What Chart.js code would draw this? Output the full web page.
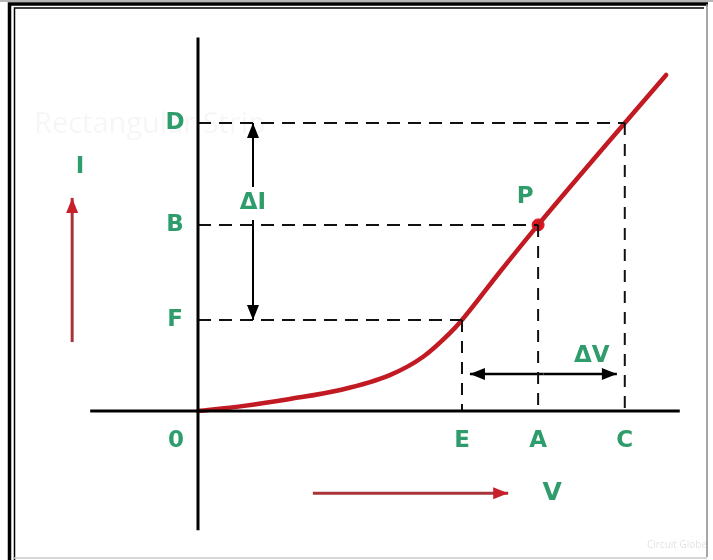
<!DOCTYPE html>
<html>
<head>
<meta charset="utf-8">
<script src="https://cdn.jsdelivr.net/npm/chart.js@4"></script>
<style>
  html, body { margin: 0; padding: 0; background: #fff; }
  canvas { display: block; }
</style>
</head>
<body>
<canvas id="chart" width="713" height="560"></canvas>
<script>
// tick letters on the V (horizontal) and I (vertical) axes
const vLabels = ['E', 'A', 'C']
const vValues = [6.0, 7.73, 9.7]
const iLabels = ['F', 'B', 'D']
const iValues = [3.17, 6.48, 10.03]

// I-V curve
const curveV = [0, 1.0, 2.09, 3.23, 4.36, 5.11, 5.73, 6.0, 6.86, 7.73, 9.7, 10.64]
const curveI = [0, 0.17, 0.42, 0.73, 1.25, 1.88, 2.72, 3.17, 4.84, 6.48, 10.03, 11.7]

// operating point P sits on A / B
const pointP = { x: vValues[1], y: iValues[1] }

const green = '#2f9c6c'
const red = '#c21a22'

function build () {
  const ctx = document.getElementById('chart').getContext('2d')

  const pts = (xs, ys) => xs.map((x, i) => ({ x: x, y: ys[i] }))

  // dashed projection lines from each curve point to both axes
  const guides = []
  vValues.forEach((v, i) => {
    guides.push({
      data: [{ x: 0, y: iValues[i] }, { x: v, y: iValues[i] }],
      borderDash: [13, 8]
    })
    guides.push({
      data: [{ x: v, y: iValues[i] }, { x: v, y: 0 }],
      borderDash: [12, 9]
    })
  })

  const datasets = []

  datasets.push({ label: 'V axis', data: [{ x: -2.45, y: 0 }, { x: 10.95, y: 0 }], borderColor: '#000', borderWidth: 3 })
  datasets.push({ label: 'I axis', data: [{ x: 0, y: -4.15 }, { x: 0, y: 13 }], borderColor: '#000', borderWidth: 3 })

  guides.forEach(g => {
    datasets.push({ label: 'guide', data: g.data, borderColor: '#111', borderWidth: 2, borderDash: g.borderDash })
  })

  // ΔI : two shafts with a gap for the text
  datasets.push({ label: 'dI up', data: [{ x: 1.25, y: 7.8 }, { x: 1.25, y: iValues[2] }], borderColor: '#000', borderWidth: 2, arrowHead: true, headColor: '#000' })
  datasets.push({ label: 'dI down', data: [{ x: 1.25, y: 6.65 }, { x: 1.25, y: iValues[0] }], borderColor: '#000', borderWidth: 2, arrowHead: true, headColor: '#000' })
  // ΔV : double headed
  datasets.push({ label: 'dV right', data: [{ x: 7.85, y: 1.29 }, { x: 9.52, y: 1.29 }], borderColor: '#000', borderWidth: 2.5, arrowHead: true, headColor: '#000' })
  datasets.push({ label: 'dV left', data: [{ x: 7.85, y: 1.29 }, { x: 6.18, y: 1.29 }], borderColor: '#000', borderWidth: 2.5, arrowHead: true, headColor: '#000' })

  // red direction arrows for I and V
  datasets.push({ label: 'I dir', data: [{ x: -2.86, y: 2.4 }, { x: -2.86, y: 7.42 }], borderColor: '#a8343a', borderWidth: 3, arrowHead: true, headColor: '#c8202a' })
  datasets.push({ label: 'V dir', data: [{ x: 2.61, y: -2.86 }, { x: 7.05, y: -2.86 }], borderColor: '#a8343a', borderWidth: 3, arrowHead: true, headColor: '#c8202a' })

  datasets.push({
    label: 'I-V curve',
    data: pts(curveV, curveI),
    borderColor: red,
    borderWidth: 4.5,
    cubicInterpolationMode: 'monotone',
    borderCapStyle: 'round'
  })
  datasets.push({
    label: 'P',
    data: [pointP],
    showLine: false,
    pointRadius: 6,
    backgroundColor: '#e0141c',
    borderColor: '#e0141c'
  })

  datasets.forEach(d => {
    if (d.showLine === undefined) d.showLine = true
    if (d.pointRadius === undefined) d.pointRadius = 0
    d.fill = false
  })

  const arrowHeads = {
    id: 'arrowHeads',
    afterDatasetsDraw (chart) {
      const c = chart.ctx
      chart.data.datasets.forEach((ds, i) => {
        if (!ds.arrowHead) return
        const pts = chart.getDatasetMeta(i).data
        const a = pts[pts.length - 2]
        const b = pts[pts.length - 1]
        const ang = Math.atan2(b.y - a.y, b.x - a.x)
        const len = 15
        const half = 6
        c.save()
        c.fillStyle = ds.headColor
        c.beginPath()
        c.moveTo(b.x, b.y)
        c.lineTo(b.x - len * Math.cos(ang) + half * Math.sin(ang), b.y - len * Math.sin(ang) - half * Math.cos(ang))
        c.lineTo(b.x - len * Math.cos(ang) - half * Math.sin(ang), b.y - len * Math.sin(ang) + half * Math.cos(ang))
        c.closePath()
        c.fill()
        c.restore()
      })
    }
  }

  const frame = {
    id: 'frame',
    beforeDraw (chart) {
      const c = chart.ctx
      const w = chart.width
      const h = chart.height
      c.save()
      c.fillStyle = '#fff'
      c.fillRect(0, 0, w, h)
      c.fillStyle = '#b5b5b5'
      c.fillRect(0, 0, w, 2)
      c.strokeStyle = '#000'
      c.lineWidth = 3.5
      c.beginPath()
      c.moveTo(9.5, h)
      c.lineTo(9.5, 4)
      c.lineTo(w - 5, 4)
      c.stroke()
      c.lineWidth = 1.5
      c.beginPath()
      c.moveTo(14.5, h)
      c.lineTo(14.5, 8)
      c.lineTo(w - 9, 8)
      c.stroke()
      c.strokeStyle = '#8a8a8a'
      c.lineWidth = 1.5
      c.beginPath()
      c.moveTo(w - 6, 4)
      c.lineTo(w - 6, h - 3)
      c.stroke()
      c.strokeStyle = '#c8c8c8'
      c.beginPath()
      c.moveTo(14, h - 2)
      c.lineTo(w - 6, h - 2)
      c.stroke()
      c.restore()
    },
    beforeDatasetsDraw (chart) {
      const c = chart.ctx
      const y = chart.scales.y.getPixelForValue(iValues[2])
      c.save()
      c.font = '29px "Open Sans", sans-serif'
      c.fillStyle = 'rgba(0,0,0,0.035)'
      c.textBaseline = 'middle'
      c.fillText('Rectangular Strip', 34, y + 2)
      c.font = '10px "Open Sans", sans-serif'
      c.fillStyle = 'rgba(0,0,0,0.12)'
      c.fillText('Circuit Globe', 647, 545)
      c.restore()
    }
  }

  const letters = {
    id: 'letters',
    afterDatasetsDraw (chart) {
      const c = chart.ctx
      const sx = chart.scales.x
      const sy = chart.scales.y
      const x0 = sx.getPixelForValue(0)
      const y0 = sy.getPixelForValue(0)
      c.save()
      c.fillStyle = green
      c.font = 'bold 23px "DejaVu Sans", sans-serif'
      c.textAlign = 'center'
      c.textBaseline = 'middle'
      iLabels.forEach((t, i) => c.fillText(t, x0 - 23, sy.getPixelForValue(iValues[i])))
      vLabels.forEach((t, i) => c.fillText(t, sx.getPixelForValue(vValues[i]), y0 + 30))
      c.fillText('0', x0 - 22, y0 + 30)
      c.fillText('P', sx.getPixelForValue(pointP.x) - 13, sy.getPixelForValue(pointP.y) - 28)
      c.fillText('ΔI', sx.getPixelForValue(1.25), sy.getPixelForValue(7.25))
      c.fillText('ΔV', sx.getPixelForValue(8.95), sy.getPixelForValue(1.9))
      c.fillText('I', sx.getPixelForValue(-2.68), sy.getPixelForValue(8.5))
      c.font = 'bold 25px "DejaVu Sans", sans-serif'
      c.fillText('V', sx.getPixelForValue(8.05), sy.getPixelForValue(-2.86))
      c.restore()
    }
  }

  const chart = new Chart(
    ctx,
    {
      type: 'scatter',
      data: { datasets: datasets },
      options: {
        responsive: false,
        animation: false,
        devicePixelRatio: 1,
        layout: { padding: 0, autoPadding: false },
        scales: {
          x: { type: 'linear', display: false, min: -4.5, max: 11.705 },
          y: { type: 'linear', display: false, min: -5.188, max: 14.31 }
        },
        plugins: {
          legend: { display: false },
          tooltip: { enabled: false }
        }
      },
      plugins: [frame, arrowHeads, letters]
    }
  )
}

build()
</script>
</body>
</html>
